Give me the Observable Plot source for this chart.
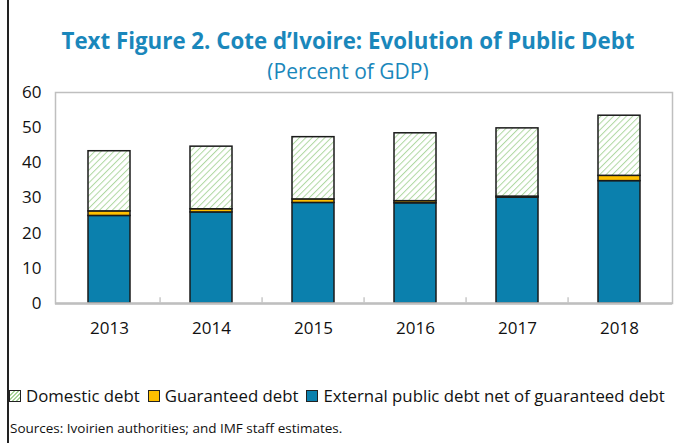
<!DOCTYPE html>
<html>
<head>
<meta charset="utf-8">
<script src="https://cdn.jsdelivr.net/npm/d3@7"></script>
<script src="https://cdn.jsdelivr.net/npm/@observablehq/plot@0.6"></script>
<style>
  html, body { margin: 0; padding: 0; background: #fff; }
  body { width: 676px; height: 443px; position: relative; overflow: hidden; font-family: "Open Sans", "Noto Sans", sans-serif; }
  #border { position: absolute; left: 7px; top: 0; width: 1.5px; height: 443px; background: #222; z-index: 10; }
  #title { position: absolute; left: 0; width: 696px; top: 28px; line-height: 1.15; text-align: center; color: #1a87bb; font-weight: bold; font-size: 22.3px; letter-spacing: 0; }
  #subtitle { position: absolute; left: 0; width: 696px; top: 59px; line-height: 1.15; text-align: center; color: #1a87bb; font-size: 21px; }
  #chart { position: absolute; left: 0; top: 80px; }
  #legend { position: absolute; left: 9px; top: 386px; line-height: 1.2; font-size: 16.8px; white-space: nowrap; color: #111; }
  #legend span.sw { display: inline-block; width: 10px; height: 10px; border: 1px solid #222; margin-right: 5px; vertical-align: 0px; }
  #legend span.item { margin-right: 8px; }
  #source { position: absolute; left: 10px; top: 419px; font-size: 13.5px; color: #111; }
</style>
</head>
<body>
<div id="border"></div>
<div id="title">Text Figure 2. Cote d’Ivoire: Evolution of Public Debt</div>
<div id="subtitle">(Percent of GDP)</div>
<div id="chart"></div>
<div id="legend"></div>
<div id="source">Sources: Ivoirien authorities; and IMF staff estimates.</div>
<script>
const years = ["2013", "2014", "2015", "2016", "2017", "2018"];
const external = [24.9, 25.9, 28.6, 28.5, 30.1, 34.8];
const guaranteed = [1.3, 0.9, 1.0, 0.6, 0.3, 1.5];
const domestic = [17.1, 17.8, 17.7, 19.3, 19.4, 17.1];
const seriesNames = ["External public debt net of guaranteed debt", "Guaranteed debt", "Domestic debt"];
const seriesFills = ["#0b80ad", "#ffc000", "url(#hatch)"];
const yTicks = [0, 10, 20, 30, 40, 50, 60];

const rows = [];
years.forEach((yr, i) => {
  rows.push({year: yr, series: seriesNames[0], value: external[i]});
  rows.push({year: yr, series: seriesNames[1], value: guaranteed[i]});
  rows.push({year: yr, series: seriesNames[2], value: domestic[i]});
});

const W = 676, H = 265, mL = 55, mR = 4;
const step = (W - mL - mR) / years.length;

const chart = Plot.plot({
  width: W,
  height: H,
  marginTop: 12,
  marginBottom: 42,
  marginLeft: mL,
  marginRight: mR,
  style: {fontFamily: "'Open Sans', 'Noto Sans', sans-serif", fontSize: "17px", color: "#111", background: "white"},
  x: {domain: years, paddingInner: 0.59, paddingOuter: 0.295, label: null, tickSize: 0, tickPadding: 18},
  y: {domain: [0, 60], ticks: yTicks, label: null, tickSize: 0, tickPadding: 14},
  color: {domain: seriesNames, range: seriesFills},
  marks: [
    Plot.frame({stroke: "#bfbfbf", strokeWidth: 1.5}),
    Plot.barY(rows, {x: "year", y: "value", fill: "series", order: seriesNames, stroke: "#1a1a1a", strokeWidth: 1.5}),
    Plot.ruleY([0], {stroke: "#bfbfbf", strokeWidth: 2.5}),
    Plot.ruleX(years.slice(1), {x: d => d, dx: -step / 2, y1: 0, y2: 1.6, stroke: "#c8c8c8", strokeWidth: 1.5})
  ]
});

// hatch pattern
const svgNS = "http://www.w3.org/2000/svg";
const defs = document.createElementNS(svgNS, "defs");
defs.innerHTML = `<pattern id="hatch" patternUnits="userSpaceOnUse" width="4.5" height="4.5" patternTransform="rotate(45)">
  <rect width="4.5" height="4.5" fill="#ffffff"/>
  <line x1="0" y1="0" x2="0" y2="4.5" stroke="#afd8a2" stroke-width="2"/>
</pattern>`;
chart.insertBefore(defs, chart.firstChild);
document.getElementById("chart").appendChild(chart);

// legend (HTML, below svg)
const legend = document.getElementById("legend");
const legendOrder = [2, 1, 0];
legendOrder.forEach(i => {
  const item = document.createElement("span");
  item.className = "item";
  const sw = document.createElement("span");
  sw.className = "sw";
  if (i === 2) {
    sw.style.background = "repeating-linear-gradient(-45deg, #fff 0 1.5px, #a9d59a 1.5px 3px)";
  } else {
    sw.style.background = seriesFills[i];
  }
  item.appendChild(sw);
  item.appendChild(document.createTextNode(seriesNames[i]));
  legend.appendChild(item);
});
</script>
</body>
</html>
